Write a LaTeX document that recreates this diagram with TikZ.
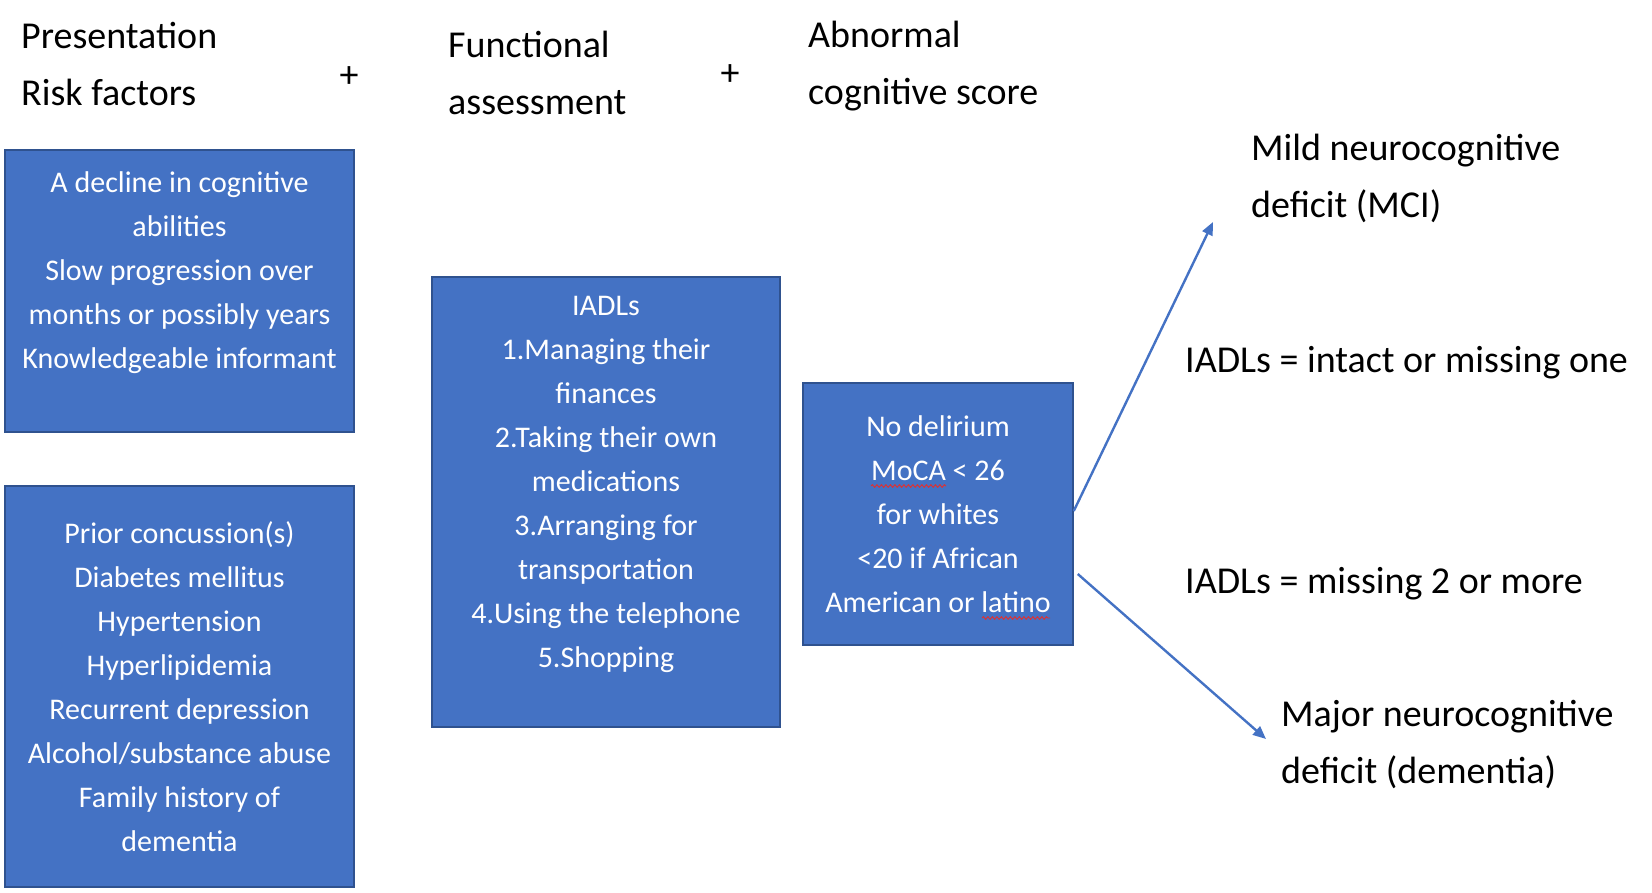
\documentclass[tikz,border=0pt]{standalone}
\usepackage{fontspec}
\setmainfont{Carlito}
\usetikzlibrary{arrows.meta,decorations.pathmorphing}
\definecolor{boxblue}{HTML}{4472C4}
\definecolor{boxedge}{HTML}{2F528F}
\definecolor{squig}{HTML}{E03030}
\tikzset{
  head/.style={inner sep=0pt, align=left, font=\fontsize{38}{57}\selectfont, text=black},
  plussign/.style={inner sep=0pt, font=\fontsize{38}{57}\selectfont, text=black},
  bluebox/.style={rectangle, fill=boxblue, draw=boxedge, line width=1.5pt, inner sep=0pt},
  boxtext/.style={inner sep=0pt, align=center, text=white, font=\fontsize{30}{44}\selectfont},
  arr/.style={draw=boxblue, line width=2.4pt, -{Triangle[length=13pt,width=11pt]}},
  spell/.style={draw=squig, line width=0.9pt, decorate, decoration={snake, amplitude=1.3pt, segment length=4.5pt}}
}
\begin{document}
\begin{tikzpicture}[x=1pt,y=-1pt]
\useasboundingbox (0,0) rectangle (1652,893);
% headings
\node[head, anchor=west] (pres) at (21,64) {Presentation\\Risk factors};
\node[plussign] (plus1) at (349,77) {+};
\node[head, anchor=west] (func) at (448,73) {Functional\\assessment};
\node[plussign] (plus2) at (730,75) {+};
\node[head, anchor=west] (abn) at (808,66) {Abnormal\\cognitive score};
% boxes
\node[bluebox, minimum width=349pt, minimum height=282pt] (b1) at (179.5,291) {};
\node[bluebox, minimum width=349pt, minimum height=401pt] (b2) at (179.5,686.5) {};
\node[bluebox, minimum width=348pt, minimum height=450pt] (b3) at (606,502) {};
\node[bluebox, minimum width=270pt, minimum height=262pt] (b4) at (938,514) {};
% box texts
\node[boxtext] (t1) at (179.5,273) {A decline in cognitive\\abilities\\Slow progression over\\months or possibly years\\Knowledgeable informant};
\node[boxtext] (t2) at (179.5,686.5) {Prior concussion(s)\\Diabetes mellitus\\Hypertension\\Hyperlipidemia\\Recurrent depression\\Alcohol/substance abuse\\Family history of\\dementia};
\node[boxtext] (t3) at (606,484) {IADLs\\1.Managing their\\finances\\2.Taking their own\\medications\\3.Arranging for\\transportation\\4.Using the telephone\\5.Shopping};
\node[boxtext] (t4) at (938,514) {No delirium\\MoCA < 26\\for whites\\<20 if African\\American or latino};
% spell-check squiggles
\coordinate (s1a) at (871,486);
\coordinate (s1b) at (946,486);
\coordinate (s2a) at (982,618);
\coordinate (s2b) at (1050,618);
\draw[spell] (s1a) -- (s1b);
\draw[spell] (s2a) -- (s2b);
% outcomes
\node[head, anchor=west] (mci) at (1251,178) {Mild neurocognitive\\deficit (MCI)};
\node[head, anchor=west] (iadl1) at (1185,363) {IADLs = intact or missing one};
\node[head, anchor=west] (iadl2) at (1185,584) {IADLs = missing 2 or more};
\node[head, anchor=west] (maj) at (1281,744) {Major neurocognitive\\deficit (dementia)};
% arrows
\coordinate (mciTip) at (1213,222);
\coordinate (majTip) at (1266,739);
\draw[arr] ([yshift=3pt]b4.east) -- (mciTip);
\draw[arr] ([xshift=4pt,yshift=-60pt]b4.east) -- (majTip);
\end{tikzpicture}
\end{document}
